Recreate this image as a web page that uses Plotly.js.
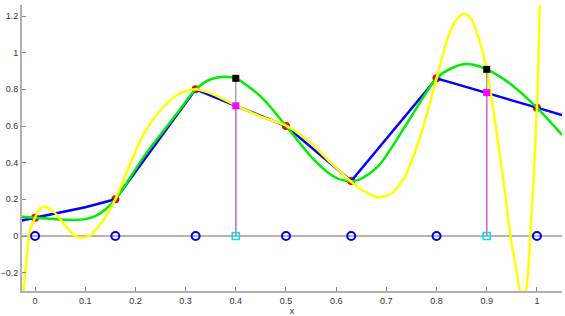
<!DOCTYPE html>
<html><head><meta charset="utf-8">
<script src="https://cdn.plot.ly/plotly-3.0.1.min.js"></script>
<style>html,body{margin:0;padding:0;background:#fff}#c{width:565px;height:316px}</style>
</head><body><div id="c"></div>
<script>
// data points
const dataX = [0, 0.16, 0.32, 0.5, 0.63, 0.8, 1.0];
const dataY = [0.1, 0.2, 0.8, 0.6, 0.3, 0.86, 0.7];
const zeroY = [0, 0, 0, 0, 0, 0, 0];
// query points
const queryX = [0.4, 0.9];
const queryZero = [0, 0];
const linearQ = [0.71, 0.782];
const splineQ = [0.86, 0.909];
// blue (linear-ish) curve
const blueX = [-0.03, 0, 0.05, 0.1, 0.16, 0.32, 0.4, 0.5, 0.63, 0.8, 0.85, 0.9, 0.95, 1.0, 1.05];
const blueY = [0.083, 0.1, 0.13, 0.157, 0.2, 0.8, 0.71, 0.6, 0.3, 0.86, 0.82, 0.782, 0.74, 0.70, 0.66];
// green (spline) curve
const greenX = [-0.03, 0, 0.04, 0.08, 0.1, 0.12, 0.14, 0.16, 0.217, 0.283, 0.32, 0.35, 0.377, 0.4, 0.45, 0.5, 0.55, 0.59, 0.617, 0.643, 0.683, 0.737, 0.8, 0.83, 0.86, 0.9, 0.95, 1.0, 1.05];
const greenY = [0.105, 0.1, 0.092, 0.088, 0.092, 0.108, 0.145, 0.2, 0.433, 0.669, 0.8, 0.855, 0.869, 0.86, 0.76, 0.6, 0.433, 0.333, 0.302, 0.305, 0.378, 0.596, 0.86, 0.915, 0.938, 0.909, 0.824, 0.70, 0.551];
// yellow (polynomial) curve
const yellowX = [-0.024, -0.017, -0.01, 0, 0.01, 0.02, 0.037, 0.057, 0.077, 0.095, 0.11, 0.123, 0.143, 0.16, 0.183, 0.217, 0.25, 0.283, 0.317, 0.35, 0.4, 0.45, 0.5, 0.55, 0.59, 0.63, 0.657, 0.683, 0.71, 0.737, 0.763, 0.783, 0.8, 0.81, 0.823, 0.84, 0.855, 0.87, 0.885, 0.9, 0.92, 0.94, 0.947, 0.96, 0.97, 0.978, 0.987, 1.0, 1.006];
const yellowY = [-0.32, -0.13, 0.033, 0.1, 0.15, 0.16, 0.133, 0.069, 0.005, -0.01, 0.005, 0.04, 0.115, 0.2, 0.35, 0.56, 0.687, 0.769, 0.8, 0.778, 0.712, 0.651, 0.602, 0.506, 0.397, 0.296, 0.242, 0.211, 0.233, 0.324, 0.506, 0.687, 0.86, 0.96, 1.087, 1.18, 1.211, 1.18, 1.07, 0.909, 0.56, 0.16, 0.0, -0.2, -0.34, -0.3, 0.015, 0.7, 1.3];

const traces = [
  {x: dataX, y: dataY, mode: 'markers', marker: {color: '#ff0000', size: 8, symbol: 'circle'}},
  {x: blueX, y: blueY, mode: 'lines', line: {color: '#0000ff', width: 2.5}},
  {x: greenX, y: greenY, mode: 'lines', line: {color: '#00ee00', width: 2.5, shape: 'spline', smoothing: 0.8}},
  {x: yellowX, y: yellowY, mode: 'lines', line: {color: '#ffff00', width: 2.5, shape: 'spline', smoothing: 0.8}},
  {x: [queryX[0], queryX[0], null, queryX[1], queryX[1]], y: [queryZero[0], splineQ[0], null, queryZero[1], splineQ[1]], mode: 'lines', line: {color: '#999999', width: 1.3}},
  {x: [queryX[0], queryX[0], null, queryX[1], queryX[1]], y: [queryZero[0], linearQ[0], null, queryZero[1], linearQ[1]], mode: 'lines', line: {color: '#dd66dd', width: 1.3}},
  {x: queryX, y: splineQ, mode: 'markers', marker: {color: '#000000', size: 7, symbol: 'square'}},
  {x: queryX, y: linearQ, mode: 'markers', marker: {color: '#ff00ff', size: 7, symbol: 'square'}},
  {x: queryX, y: queryZero, mode: 'markers', marker: {color: '#00e5e5', size: 7, symbol: 'square-open', line: {color: '#00e5e5', width: 1.5}}},
  {x: dataX, y: zeroY, mode: 'markers', marker: {color: '#0000ee', size: 8, symbol: 'circle-open', line: {color: '#0000ee', width: 2}}}
];

const layout = {
  width: 565, height: 316,
  margin: {l: 22, r: 3, t: 5, b: 25},
  showlegend: false,
  paper_bgcolor: '#ffffff', plot_bgcolor: '#ffffff',
  font: {family: 'Liberation Sans, Arial, sans-serif', size: 9, color: '#333333'},
  xaxis: {
    range: [-0.026, 1.05], tickvals: [0,0.1,0.2,0.3,0.4,0.5,0.6,0.7,0.8,0.9,1],
    showgrid: false, zeroline: false, showline: true, linecolor: '#b0b0b0', linewidth: 2,
    ticks: 'inside', ticklen: 4, tickcolor: '#888888', tickwidth: 1,
    tickfont: {size: 9, color: '#333333'}, automargin: false,
    title: {text: 'x', font: {size: 9, color: '#333333'}, standoff: 0}
  },
  yaxis: {
    range: [-0.3, 1.26], tickvals: [-0.2,0,0.2,0.4,0.6,0.8,1,1.2],
    showgrid: false, zeroline: true, zerolinecolor: '#b4b4b4', zerolinewidth: 2,
    showline: true, linecolor: '#b0b0b0', linewidth: 2, automargin: false,
    ticks: 'inside', ticklen: 4, tickcolor: '#888888', tickwidth: 1,
    tickfont: {size: 9, color: '#333333'}
  }
};
Plotly.newPlot('c', traces, layout, {staticPlot: true, displayModeBar: false});
</script></body></html>
